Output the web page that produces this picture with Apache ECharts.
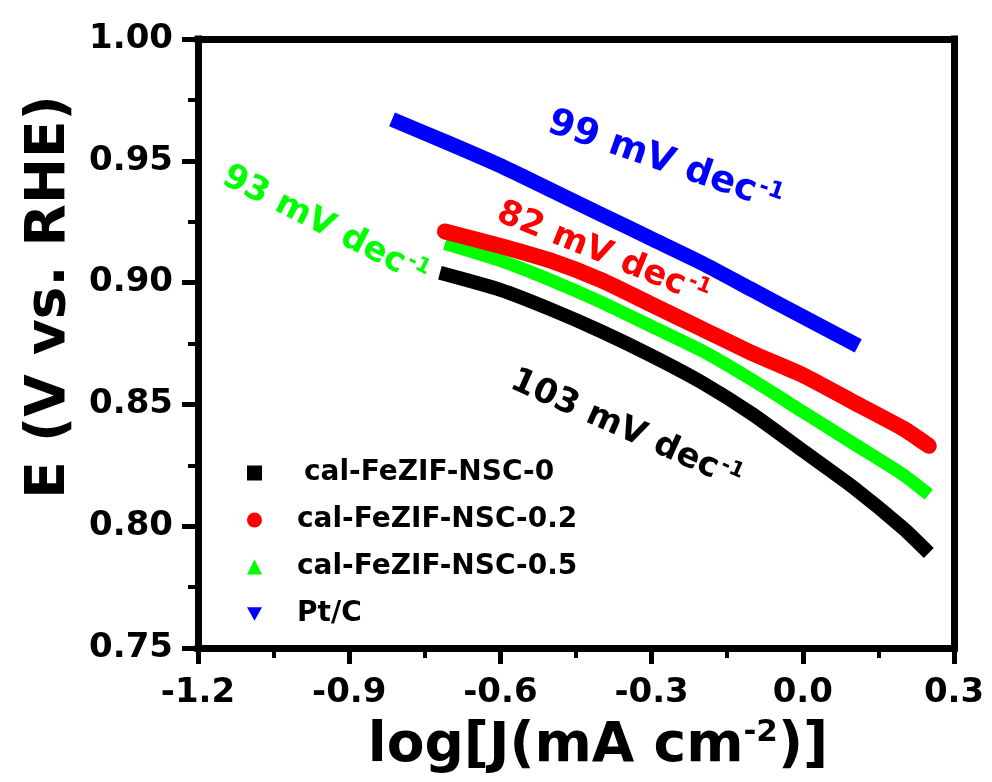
<!DOCTYPE html>
<html>
<head>
<meta charset="utf-8">
<script src="https://cdn.jsdelivr.net/npm/echarts@6/dist/echarts.min.js"></script>
<style>
  html, body { margin: 0; padding: 0; background: #fff; }
  #chart { width: 992px; height: 782px; }
</style>
</head>
<body>
<div id="chart"></div>
<script>
// series names (legend order)
const names = ['cal-FeZIF-NSC-0', 'cal-FeZIF-NSC-0.2', 'cal-FeZIF-NSC-0.5', 'Pt/C'];
const colors = ['#000000', '#ff0000', '#00ff00', '#0000ff'];
const icons = ['rect', 'circle', 'triangle', 'path://M0,0 L10,0 L5,9 Z'];

// log[J] (x) and E (y)
const logJ_0 = [-0.72, -0.6, -0.5, -0.4, -0.3, -0.2, -0.1, 0.0, 0.1, 0.2, 0.25];
const E_0 = [0.904, 0.897, 0.889, 0.880, 0.870, 0.859, 0.846, 0.831, 0.816, 0.799, 0.789];

const logJ_02 = [-0.71, -0.6, -0.5, -0.4, -0.3, -0.2, -0.1, 0.0, 0.1, 0.2, 0.25];
const E_02 = [0.921, 0.915, 0.909, 0.901, 0.891, 0.881, 0.871, 0.862, 0.851, 0.840, 0.833];

const logJ_05 = [-0.71, -0.6, -0.5, -0.4, -0.3, -0.2, -0.1, 0.0, 0.1, 0.2, 0.25];
const E_05 = [0.916, 0.909, 0.901, 0.892, 0.882, 0.872, 0.860, 0.847, 0.834, 0.821, 0.813];

const logJ_pt = [-0.815, -0.7, -0.6, -0.5, -0.4, -0.3, -0.2, -0.1, 0.0, 0.11];
const E_pt = [0.967, 0.957, 0.948, 0.938, 0.928, 0.918, 0.908, 0.897, 0.886, 0.874];

// Tafel slope labels
const slopeLabels = ['103 mV dec', '82 mV dec', '93 mV dec', '99 mV dec'];

const font = 'DejaVu Sans';
const pair = (xs, ys) => xs.map((x, i) => [x, ys[i]]);

const chart = echarts.init(document.getElementById('chart'));

const supText = (txt, color, size, supSize, left, top, rot) => ({
    type: 'text',
    x: left,
    y: top,
    rotation: rot * Math.PI / 180,
    z: 100,
    style: {
        text: '{a|' + txt + '}{s|-1}',
        align: 'center',
        verticalAlign: 'middle',
        rich: {
            a: { fontFamily: font, fontWeight: 'bold', fontSize: size, fill: color },
            s: { fontFamily: font, fontWeight: 'bold', fontSize: supSize, fill: color, padding: [0, 0, 16, 2] }
        }
    }
});

const lineSeries = (i, xs, ys, width, z, cap) => ({
    name: names[i],
    type: 'line',
    data: pair(xs, ys),
    smooth: 0.2,
    symbol: icons[i],
    showSymbol: false,
    color: colors[i],
    lineStyle: { width: width, color: colors[i], cap: cap || 'butt', join: 'round' },
    z: z
});

const option = {
    backgroundColor: '#fff',
    animation: false,
    grid: { left: 198, right: 38, top: 39, bottom: 134 },
    legend: {
        data: names.map((n, i) => ({ name: n, icon: icons[i] })),
        orient: 'vertical',
        left: 242,
        top: 453,
        itemWidth: 15,
        itemHeight: 15,
        itemGap: 17,
        formatter: (name) => name === names[0] ? '{f|' + name + '}' : '{n|' + name + '}',
        textStyle: {
            fontFamily: font,
            fontWeight: 'bold',
            fontSize: 28,
            color: '#000',
            lineHeight: 30,
            rich: {
                f: { fontFamily: font, fontWeight: 'bold', fontSize: 28, color: '#000', padding: [0, 0, 0, 37] },
                n: { fontFamily: font, fontWeight: 'bold', fontSize: 28, color: '#000', padding: [0, 0, 0, 30] }
            }
        }
    },
    xAxis: [{
        type: 'value',
        min: -1.2,
        max: 0.3,
        interval: 0.3,
        position: 'bottom',
        axisLine: { onZero: false, lineStyle: { color: '#000', width: 7, cap: 'square' } },
        axisTick: { inside: false, length: 16, lineStyle: { color: '#000', width: 5 } },
        minorTick: { show: true, splitNumber: 2, length: 10, lineStyle: { color: '#000', width: 4 } },
        splitLine: { show: false },
        axisLabel: {
            margin: 28,
            fontFamily: font,
            fontWeight: 'bold',
            fontSize: 34,
            color: '#000',
            formatter: (v) => v.toFixed(1)
        }
    }, {
        type: 'value',
        min: -1.2,
        max: 0.3,
        position: 'top',
        axisLine: { onZero: false, lineStyle: { color: '#000', width: 7, cap: 'square' } },
        axisTick: { show: false },
        axisLabel: { show: false },
        splitLine: { show: false }
    }],
    yAxis: [{
        type: 'value',
        min: 0.75,
        max: 1.0,
        interval: 0.05,
        position: 'left',
        axisLine: { show: true, onZero: false, lineStyle: { color: '#000', width: 7, cap: 'square' } },
        axisTick: { show: true, inside: false, length: 16, lineStyle: { color: '#000', width: 5 } },
        minorTick: { show: true, splitNumber: 2, length: 10, lineStyle: { color: '#000', width: 4 } },
        splitLine: { show: false },
        axisLabel: {
            margin: 25,
            fontFamily: font,
            fontWeight: 'bold',
            fontSize: 34,
            color: '#000',
            formatter: (v) => v.toFixed(2)
        }
    }, {
        type: 'value',
        min: 0.75,
        max: 1.0,
        position: 'right',
        axisLine: { show: true, onZero: false, lineStyle: { color: '#000', width: 7, cap: 'square' } },
        axisTick: { show: false },
        axisLabel: { show: false },
        splitLine: { show: false }
    }],
    series: [
        lineSeries(0, logJ_0, E_0, 14, 2),
        lineSeries(2, logJ_05, E_05, 13, 3),
        lineSeries(1, logJ_02, E_02, 16, 4, 'round'),
        lineSeries(3, logJ_pt, E_pt, 15, 5)
    ],
    graphic: [
        // axis titles
        {
            type: 'text', x: 50, y: 297, rotation: Math.PI / 2,
            style: {
                text: 'E (V vs. RHE)', fontFamily: font, fontWeight: 'bold', fontSize: 55,
                fill: '#000', align: 'center', verticalAlign: 'middle'
            }
        },
        {
            type: 'text', x: 598, y: 747,
            style: {
                text: '{a|log[J(mA cm}{s|-2}{a|)]}',
                align: 'center', verticalAlign: 'middle',
                rich: {
                    a: { fontFamily: font, fontWeight: 'bold', fontSize: 55, fill: '#000' },
                    s: { fontFamily: font, fontWeight: 'bold', fontSize: 31, fill: '#000', padding: [0, 0, 28, 0] }
                }
            }
        },
        supText(slopeLabels[3], colors[3], 37, 23, 665, 162, -19),
        supText(slopeLabels[1], colors[1], 34, 21, 603, 254, -22),
        supText(slopeLabels[2], colors[2], 34, 21, 325, 226, -27),
        supText(slopeLabels[0], colors[0], 34, 21, 626, 430, -24)
    ]
};

chart.setOption(option);
</script>
</body>
</html>
